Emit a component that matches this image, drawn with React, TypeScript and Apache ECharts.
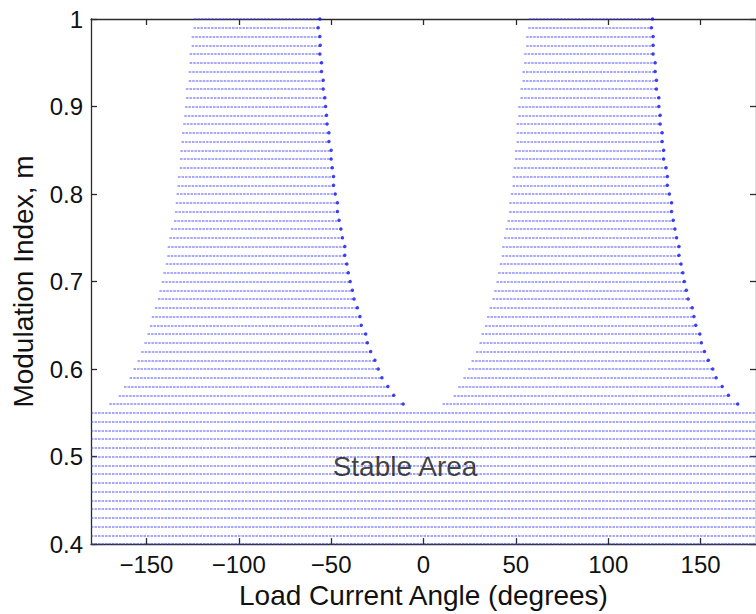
import React, { useEffect, useRef } from "react";
import * as echarts from "echarts";

// Modulation index levels that have an unstable gap (two stable bands per row)
const bandLevels = [
  1.0, 0.99, 0.98, 0.97, 0.96, 0.95, 0.94, 0.93, 0.92, 0.91,
  0.9, 0.89, 0.88, 0.87, 0.86, 0.85, 0.84, 0.83, 0.82, 0.81,
  0.8, 0.79, 0.78, 0.77, 0.76, 0.75, 0.74, 0.73, 0.72, 0.71,
  0.7, 0.69, 0.68, 0.67, 0.66, 0.65, 0.64, 0.63, 0.62, 0.61,
  0.6, 0.59, 0.58, 0.57, 0.56,
];
// Left stable band: start / end angle (degrees)
const leftStart = [
  -124.3, -124.5, -125.5, -125.5, -126.6, -126.6, -127.1, -127.1, -128.6, -128.6,
  -129.1, -129.5, -130.1, -130.7, -131.0, -131.6, -131.8, -132.0, -132.9, -133.1,
  -133.7, -134.1, -134.5, -135.1, -136.7, -137.6, -138.5, -138.7, -139.5, -140.8,
  -141.7, -143.0, -143.8, -145.4, -147.1, -148.1, -149.4, -151.1, -152.8, -154.8,
  -157.0, -159.1, -162.1, -165.0, -170.1,
];
const leftEnd = [
  -56.1, -57.0, -56.1, -55.9, -56.1, -55.2, -55.2, -54.3, -54.3, -53.4,
  -53.0, -52.5, -52.2, -51.2, -51.2, -50.0, -50.0, -49.4, -48.7, -48.7,
  -47.8, -46.6, -46.6, -45.7, -44.7, -43.9, -42.6, -42.6, -41.5, -40.7,
  -39.7, -38.5, -37.6, -35.8, -34.4, -33.7, -31.3, -30.4, -28.6, -26.3,
  -24.5, -22.5, -19.3, -16.1, -11.0,
];
// Right stable band: start / end angle (degrees)
const rightStart = [
  57.0, 56.7, 55.6, 55.6, 54.5, 54.5, 53.6, 53.6, 52.5, 52.5,
  51.3, 51.3, 50.4, 50.4, 50.4, 49.5, 49.5, 48.8, 48.2, 48.2,
  47.3, 46.4, 46.4, 45.5, 44.5, 43.6, 42.6, 42.4, 41.3, 40.4,
  39.5, 38.3, 37.3, 35.8, 34.4, 33.3, 31.4, 30.3, 28.4, 26.0,
  24.2, 21.6, 18.8, 16.3, 10.3,
];
const rightEnd = [
  124.0, 123.4, 124.3, 124.3, 124.3, 125.4, 125.4, 126.1, 126.1, 127.4,
  127.4, 128.1, 128.1, 129.2, 129.2, 130.0, 130.0, 131.3, 132.0, 132.0,
  133.1, 134.3, 134.3, 135.2, 136.1, 137.0, 138.3, 138.3, 139.4, 140.4,
  141.2, 142.3, 143.3, 145.5, 146.4, 147.4, 149.6, 150.4, 152.1, 154.2,
  156.6, 158.4, 161.7, 165.1, 170.1,
];
// Levels stable over the whole angle range
const fullLevels = [
  0.55, 0.54, 0.53, 0.52, 0.51, 0.5, 0.49, 0.48,
  0.47, 0.46, 0.45, 0.44, 0.43, 0.42, 0.41, 0.4,
];
const angleRange = [-180, 180];
const xTicks = [-150, -100, -50, 0, 50, 100, 150];
const yTicks = [0.4, 0.5, 0.6, 0.7, 0.8, 0.9, 1];
const areaLabel = { text: "Stable Area", angle: -10, m: 0.489 };

const FONT = "'Liberation Sans', Arial, Helvetica, sans-serif";
const INK = "#111111";
const AXIS = "#2b2b2b";

export default function App() {
  const ref = useRef<HTMLDivElement>(null);

  useEffect(() => {
    if (!ref.current) return;
    const chart = echarts.init(ref.current, null, { renderer: "svg" });

    const segments: { coords: number[][] }[] = [];
    fullLevels.forEach((m) => {
      segments.push({ coords: [[angleRange[0], m], [angleRange[1], m]] });
    });
    bandLevels.forEach((m, i) => {
      segments.push({ coords: [[leftStart[i], m], [leftEnd[i], m]] });
      segments.push({ coords: [[rightStart[i], m], [rightEnd[i], m]] });
    });
    const endDots: number[][] = [];
    bandLevels.forEach((m, i) => {
      endDots.push([leftEnd[i], m]);
      endDots.push([rightEnd[i], m]);
    });

    const tickStyle = { show: true, inside: true, length: 6, lineStyle: { color: AXIS, width: 1.3 } };
    const lineStyle = { show: true, onZero: false, lineStyle: { color: AXIS, width: 1.3 } };

    chart.setOption({
      animation: false,
      backgroundColor: "#ffffff",
      textStyle: { fontFamily: FONT },
      grid: { left: 91, top: 19, width: 669, height: 528.3, containLabel: false },
      xAxis: [
        {
          type: "value",
          position: "bottom",
          min: angleRange[0],
          max: angleRange[1],
          axisLine: lineStyle,
          axisTick: { ...tickStyle, customValues: xTicks },
          axisLabel: {
            customValues: xTicks,
            fontSize: 24,
            color: INK,
            fontFamily: FONT,
            margin: 8,
            formatter: (v: number) => (v < 0 ? "\u2212" + Math.abs(v) : String(v)),
          },
          splitLine: { show: false },
          name: "Load Current Angle (degrees)",
          nameLocation: "middle",
          nameGap: 34,
          nameTextStyle: { fontSize: 28, color: INK, fontFamily: FONT },
        },
        {
          type: "value",
          position: "top",
          min: angleRange[0],
          max: angleRange[1],
          axisLine: lineStyle,
          axisTick: { ...tickStyle, customValues: xTicks },
          axisLabel: { show: false, customValues: xTicks },
          splitLine: { show: false },
        },
      ],
      yAxis: [
        {
          type: "value",
          position: "left",
          min: 0.4,
          max: 1,
          axisLine: lineStyle,
          axisTick: { ...tickStyle, customValues: yTicks },
          axisLabel: {
            customValues: yTicks,
            fontSize: 24,
            color: INK,
            fontFamily: FONT,
            margin: 8,
            formatter: (v: number) => String(Math.round(v * 10) / 10),
          },
          splitLine: { show: false },
          name: "Modulation Index, m",
          nameLocation: "middle",
          nameGap: 54,
          nameTextStyle: { fontSize: 28, color: INK, fontFamily: FONT },
        },
        {
          type: "value",
          position: "right",
          min: 0.4,
          max: 1,
          axisLine: lineStyle,
          axisTick: { ...tickStyle, customValues: yTicks },
          axisLabel: { show: false, customValues: yTicks },
          splitLine: { show: false },
        },
      ],
      series: [
        {
          type: "lines",
          coordinateSystem: "cartesian2d",
          xAxisIndex: 0,
          yAxisIndex: 0,
          clip: false,
          silent: true,
          lineStyle: { color: "rgba(60,60,250,0.6)", width: 1.6, type: [2.5, 1], opacity: 1 },
          data: segments,
        },
        {
          type: "scatter",
          xAxisIndex: 0,
          yAxisIndex: 0,
          symbol: "circle",
          symbolSize: 3.5,
          itemStyle: { color: "#1414f0" },
          silent: true,
          data: endDots,
        },
        {
          type: "scatter",
          xAxisIndex: 0,
          yAxisIndex: 0,
          symbolSize: 0,
          silent: true,
          z: 5,
          data: [[areaLabel.angle, areaLabel.m]],
          label: {
            show: true,
            position: "inside",
            formatter: areaLabel.text,
            fontSize: 28,
            color: INK,
            fontFamily: FONT,
          },
        },
      ],
    });

    return () => chart.dispose();
  }, []);

  return (
    <div
      ref={ref}
      style={{ position: "fixed", left: 0, top: 0, width: 756, height: 614, background: "#fff" }}
    />
  );
}
